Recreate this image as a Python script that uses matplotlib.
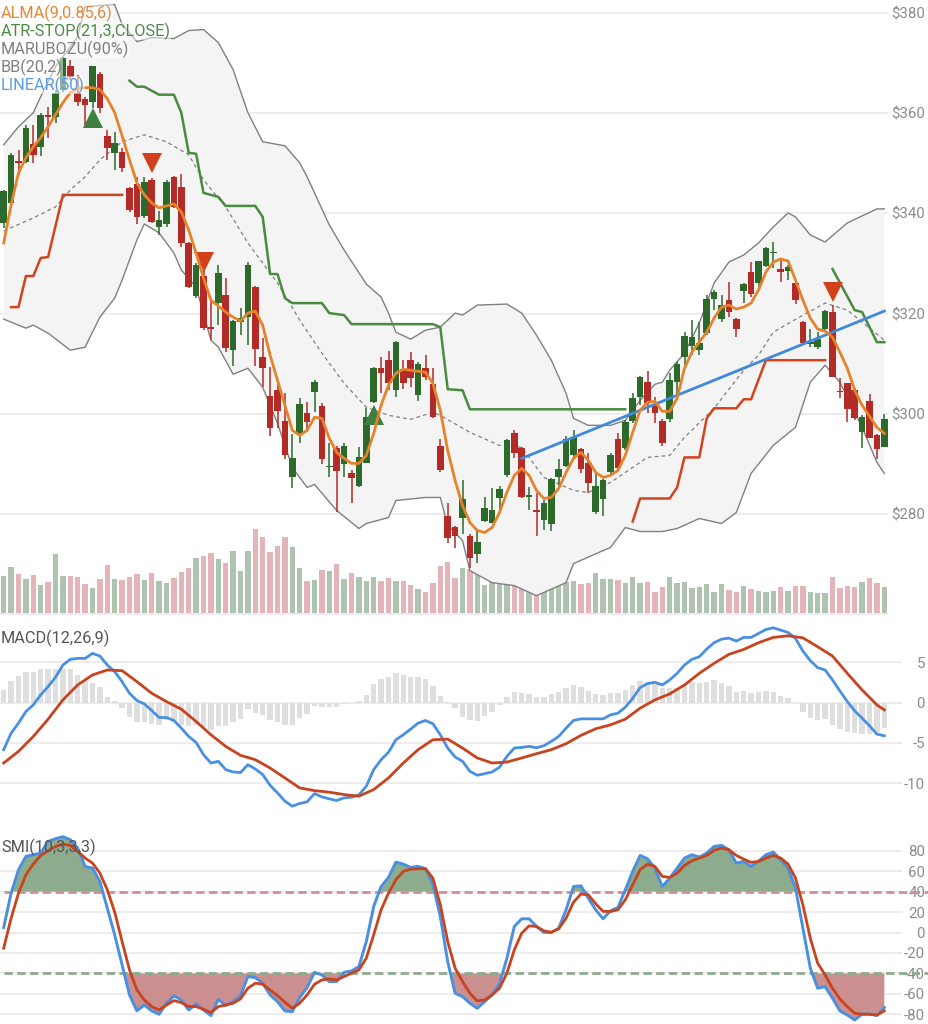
import numpy as np
import matplotlib
matplotlib.use('Agg')
import matplotlib.pyplot as plt

plt.rcParams['font.family'] = ['Roboto', 'DejaVu Sans']

W, H = 929, 1024

# candles, one value per bar
candle_open = [338.1,342.1,350.5,350.3,353.9,353.3,359.7,359.3,364.7,369.5,364.1,362.9,362.3,367.9,355.5,352.1,352.3,345.1,345.9,339.5,
               346.7,337.3,337.9,347.3,345.3,334.1,323.5,327.5,317.3,322.1,323.7,312.7,318.3,319.3,325.3,311.3,303.5,304.7,298.5,287.3,
               295.9,300.1,304.3,301.5,289.3,293.1,289.9,288.1,285.5,290.1,302.3,309.1,310.7,304.7,308.9,310.7,303.7,309.1,305.9,293.5,
               279.7,277.5,279.3,275.7,272.1,278.7,278.3,283.1,287.7,296.1,293.1,283.3,280.7,278.9,278.1,287.3,289.5,291.7,292.9,290.1,
               280.3,282.9,288.3,294.9,293.1,298.5,303.3,306.3,301.7,298.5,298.9,306.3,311.3,313.5,312.7,316.1,322.9,318.9,322.7,318.9,
               324.5,328.3,326.1,329.5,332.1,328.9,328.5,326.1,318.3,313.9,313.3,316.9,320.3,304.5,306.1,304.7,296.3,302.5,295.7,293.3]
candle_close = [344.5,351.7,350.1,357.1,351.7,359.7,359.3,364.1,371.1,367.3,362.3,361.7,369.5,361.1,353.1,354.1,349.1,340.7,339.3,346.3,
                338.3,338.7,346.3,341.3,334.1,325.3,329.7,317.1,316.9,328.1,313.1,318.5,319.1,329.7,312.9,309.1,297.1,300.5,291.7,291.1,
                301.9,298.3,306.3,290.9,289.5,288.5,293.5,287.1,291.3,299.3,309.1,308.1,306.1,314.3,306.1,307.1,309.9,307.3,299.3,288.7,
                275.3,275.7,282.9,271.3,274.5,281.1,280.7,284.9,294.7,292.1,283.3,283.7,280.3,282.1,286.9,288.9,294.9,295.3,288.9,286.1,
                285.5,286.7,291.7,289.1,298.3,303.1,307.3,302.1,300.1,294.1,306.7,309.9,315.5,315.3,314.1,322.9,324.3,321.7,320.3,316.9,
                325.9,323.9,330.5,333.1,332.3,328.3,329.3,322.7,314.1,314.3,314.9,320.5,307.3,304.3,300.9,299.1,299.3,295.1,292.9,298.9]
candle_high = [344.7,352.1,352.7,357.7,357.7,360.1,361.3,364.7,371.3,370.7,367.7,363.3,369.5,368.3,356.7,356.3,353.1,345.3,347.3,347.3,
               347.1,340.5,346.7,347.5,347.9,334.3,330.1,328.7,322.7,329.7,327.1,318.7,321.1,330.3,325.5,315.1,309.3,306.7,304.1,295.9,
               303.1,302.3,306.7,302.1,294.1,293.5,294.1,288.7,293.3,301.1,309.3,311.3,312.5,314.5,310.7,312.3,310.3,311.7,309.1,294.9,
               282.1,277.7,286.7,276.1,277.1,283.3,285.1,285.5,294.9,296.7,293.3,285.3,284.1,282.7,287.1,290.9,295.5,296.7,293.1,292.1,
               288.1,286.9,292.1,296.1,298.7,304.1,307.5,308.5,303.3,298.9,308.1,310.3,316.3,318.7,318.3,323.7,324.7,323.7,326.3,319.1,
               326.1,330.3,330.5,333.3,334.3,331.1,329.7,326.3,318.5,316.9,316.3,320.7,321.7,307.1,306.1,305.1,299.7,303.9,295.9,299.9]
candle_low = [337.1,341.7,347.7,350.1,350.1,351.5,355.1,358.1,364.3,366.7,361.5,357.7,361.1,360.1,350.7,348.7,348.3,340.3,337.9,339.1,
              338.1,335.7,337.3,341.1,333.3,325.1,323.1,316.7,314.7,317.7,312.3,309.5,315.7,313.7,309.5,305.3,295.5,297.1,290.9,285.1,
              294.1,296.3,300.3,289.9,287.3,280.3,287.3,282.1,285.3,290.1,302.1,304.1,304.7,303.3,304.9,305.3,302.5,306.7,299.1,288.3,
              274.3,273.3,276.1,269.3,270.3,278.5,278.3,280.7,287.3,291.1,283.1,280.7,275.7,276.9,276.7,285.3,289.3,291.1,288.1,284.1,
              280.1,279.7,287.9,288.7,292.7,298.1,301.7,300.1,298.1,293.5,298.3,302.7,309.7,311.7,311.7,315.7,320.7,318.3,319.3,315.3,
              322.1,323.3,325.1,329.3,329.1,326.3,326.7,321.9,314.1,313.3,312.9,316.7,307.3,303.1,298.3,298.7,293.1,295.1,290.9,293.3]
volume = [37,46,39,34,38,28,31,59,37,37,36,29,25,34,48,34,33,36,39,33,40,32,30,35,41,45,55,57,60,54,50,62,42,62,84,76,61,67,76,66,
          45,32,33,43,42,49,34,40,36,32,36,32,35,32,32,28,24,21,30,47,51,35,45,44,40,28,36,31,31,27,33,31,43,31,33,34,31,32,29,30,
          40,34,34,33,30,36,30,31,21,26,36,30,31,25,26,29,21,29,23,21,27,24,22,21,22,26,22,27,27,21,20,20,36,25,27,26,31,35,30,26]

# overlays, read at their bends
bb_upper_idx = [0,2,4,5,7,10,11,15,16,18,20,23,25,27,29,31,33,35,38,40,41,44,46,49,51,52,53,55,57,59,61,62,64,68,70,72,74,76,77,79,82,84,86,88,89,90,92,94,96,98,100,102,104,106,107,109,111,114,118,119]
bb_upper = [353.7,357.3,360.1,363.3,369.3,375.3,381.3,381.7,377.7,374.3,375.1,374.9,376.5,376.7,374.1,368.7,360.1,354.3,353.5,350.1,347.3,337.7,332.7,325.9,323.3,320.1,316.3,314.9,316.7,317.3,320.1,319.7,321.7,321.9,320.1,315.7,310.7,304.1,299.1,297.7,297.7,298.7,302.7,305.9,306.3,308.7,312.1,318.1,326.1,330.3,331.7,334.1,337.3,340.1,339.3,335.7,334.3,338.1,340.9,340.9]
bb_lower_idx = [0,3,4,6,9,11,13,15,16,18,19,21,23,24,26,28,29,31,33,35,37,39,41,42,45,48,49,52,53,57,59,60,62,63,66,69,72,76,77,81,82,84,86,89,91,94,97,99,101,104,107,109,111,113,116,118,119]
bb_lower = [318.9,317.1,317.7,316.1,312.7,313.3,319.3,323.1,326.7,334.7,337.9,336.1,332.1,328.7,325.3,314.7,313.3,307.9,309.1,305.3,298.1,289.3,285.3,285.9,280.7,277.1,278.1,279.3,282.7,283.3,283.3,277.7,274.7,268.7,266.3,265.7,263.7,266.3,270.1,272.7,273.3,277.3,276.5,276.5,277.1,279.1,278.1,280.3,288.1,293.7,297.3,306.3,309.7,306.3,297.3,290.3,288.1]
bb_mid_idx = [0,4,7,9,11,13,16,19,22,25,27,30,33,37,40,43,46,49,52,55,58,59,63,67,70,73,77,79,82,85,87,90,92,96,100,102,104,108,111,114,117,119]
bb_mid = [336.5,339.1,341.3,344.7,347.3,350.7,354.3,355.7,354.3,351.7,346.7,341.3,334.1,326.1,318.7,312.1,306.1,301.3,299.7,298.9,300.3,299.7,296.3,293.7,293.3,287.3,284.7,284.3,286.3,289.3,291.3,291.7,295.3,301.1,308.7,311.7,316.3,319.7,322.1,320.7,317.1,314.7]
alma = [334.1,341.7,348.1,351.1,353.3,355.1,357.3,359.7,362.1,364.1,364.9,365.1,365.1,364.7,362.9,360.1,355.5,350.7,346.1,343.7,
        342.1,341.1,341.5,341.9,340.3,336.7,332.1,327.1,322.7,321.5,320.3,319.3,318.5,320.1,320.5,317.7,311.7,306.7,301.7,296.7,
        295.7,296.7,299.3,299.1,295.1,292.3,291.1,290.1,290.1,291.7,296.1,301.7,305.7,308.1,308.9,308.7,308.5,308.3,306.1,300.7,
        292.7,286.7,281.7,278.3,276.7,276.3,277.3,280.3,284.3,287.7,289.1,287.7,284.7,283.1,283.3,285.1,288.3,291.1,292.3,290.7,
        288.3,287.3,287.7,288.7,291.7,296.3,300.7,302.3,302.5,300.5,300.5,303.1,309.1,312.3,314.3,316.3,319.1,321.3,321.7,320.9,
        321.3,322.1,324.7,328.3,330.3,330.9,330.5,326.7,322.7,319.1,316.9,316.5,315.3,312.3,309.1,304.7,301.7,299.5,297.3,296.1]
atr_a_idx = [17,18,19,21,23,24,25,26,27,29,30,34,35,36,37,38,39,43,44,46,47,58,59,60,62,63,84]
atr_a = [366.5,365.3,365.3,363.7,363.7,360.1,352.1,351.9,344.1,343.3,341.5,341.5,339.3,327.9,327.9,323.1,322.1,322.1,320.1,319.7,317.9,317.9,317.3,304.9,304.7,300.9,300.9]
atr_b_idx = [112,115,116,118,119]
atr_b = [328.9,320.7,320.3,314.3,314.3]
stop_a_idx = [1,2,3,4,5,6,8,16]
stop_a = [321.3,321.3,327.5,327.5,331.1,331.3,343.7,343.7]
stop_b_idx = [85,86,90,91,92,94,95,96,99,100,101,103,111]
stop_b = [278.5,283.1,283.1,285.3,291.3,291.3,299.1,301.1,301.1,302.9,302.9,310.7,310.7]
linear_idx = [70,119]
linear = [291.1,320.5]

up_idx = [12,50]
up_price = [359.1,299.7]
down_idx = [20,27,112]
down_price = [350.1,330.3,324.3]

macd = [-5.84,-3.79,-2.55,-1.11,-0.29,0.95,1.98,3.13,4.65,5.35,5.47,5.47,6.09,5.76,4.65,3.83,2.59,1.15,0.25,-0.16,
        -0.99,-1.85,-1.85,-2.22,-3.17,-4.2,-4.94,-6.46,-7.49,-7.28,-8.31,-8.6,-8.68,-7.7,-8.23,-8.93,-10.25,-11.19,-12.22,-12.84,
        -12.51,-12.3,-11.28,-11.69,-11.93,-12.14,-11.81,-11.73,-11.44,-10.37,-8.31,-7.08,-6.17,-4.61,-3.99,-3.29,-2.55,-2.22,-2.63,-3.99,
        -5.64,-6.75,-7.28,-8.52,-9.01,-8.81,-8.6,-8.02,-6.67,-5.64,-5.56,-5.43,-5.6,-5.35,-4.81,-4.2,-3.17,-2.22,-2.02,-2.02,
        -2.02,-2.02,-1.52,-1.32,-0.58,0.53,1.85,2.35,2.51,2.18,2.8,3.62,4.65,5.35,5.68,6.63,7.41,7.86,7.98,7.61,
        8.07,8.07,8.56,9.05,9.26,8.97,8.68,7.94,6.38,5.19,4.32,4.03,2.8,1.44,0.12,-1.03,-1.93,-2.88,-3.91,-4.12]
signal_idx = list(range(0,119,2)) + [119]
signal = [-7.49,-6.05,-4.2,-2.06,0.33,2.18,3.42,4.03,3.95,2.59,1.15,0.12,-0.82,-2.35,-3.99,-5.43,-6.54,-7.08,-8.11,-9.34,
          -10.58,-10.91,-11.11,-11.4,-11.6,-10.78,-9.34,-7.49,-5.84,-4.61,-4.53,-5.64,-6.87,-7.49,-7.37,-6.87,-6.34,-5.84,-5.1,-4.07,
          -3.25,-2.76,-2.06,-0.7,0.33,1.07,2.18,3.62,4.86,5.97,6.58,7.41,8.07,8.27,8.02,6.91,5.76,3.62,1.56,-0.29,-0.91]
hist = [1.56,2.72,3.29,3.83,3.83,4.1,4.1,4.1,4.2,4.1,3.4,2.72,2.4,1.9,0.66,0.2,-0.7,-1.73,-2.4,-2.35,
        -2.63,-2.76,-2.2,-2.35,-2.76,-2.88,-2.76,-3.05,-3.37,-2.88,-2.88,-2.35,-2.0,-0.8,-1.25,-1.5,-2.2,-2.35,-2.76,-2.76,
        -1.93,-1.4,-0.4,-0.5,-0.6,-0.6,-0.2,-0.1,0.15,0.95,2.26,2.88,3.2,3.7,3.4,3.2,3.13,2.88,2.06,0.82,
        0.12,-0.7,-1.73,-2.14,-2.26,-1.65,-1.23,-0.29,0.66,1.36,1.23,1.03,0.74,0.66,1.07,1.36,1.85,2.18,1.98,1.48,
        1.07,0.99,1.23,1.15,1.56,2.18,2.67,2.55,2.39,1.77,1.77,1.77,2.18,2.59,2.39,2.59,2.8,2.47,2.1,1.36,
        1.48,1.15,1.28,1.44,1.36,0.86,0.53,-0.08,-1.23,-1.93,-2.22,-2.06,-2.76,-3.29,-3.66,-3.79,-3.87,-3.87,-3.7,-3.17]

smi = [4.9,38.5,61.4,74.4,76.1,77.7,89.1,91.8,93.7,90.8,82.6,64.7,63,50,23.8,-2.3,-31.7,-61,-76.7,-70.9,
       -76.7,-80,-69.2,-62,-66,-75.8,-69.9,-75.8,-81.3,-65.3,-71.5,-67.6,-62,-43.1,-44.1,-49.6,-61,-67.6,-76.7,-77.4,
       -63.7,-53.9,-38.9,-41.5,-48,-48,-38.9,-37.6,-33.3,-8.8,25.5,45,53.9,68.9,66.9,63.7,64.7,62.4,46.7,15.7,
       -28.4,-59.4,-62.7,-69.2,-74.1,-67.6,-61,-50.6,-25.1,5.9,13.4,13.4,5.9,0,0,4.2,22.2,45,45.7,33.6,
       22.2,13.4,21.2,24.5,41.8,59.8,75.4,72.2,63,45,53.2,63,72.8,76.1,73.8,77.7,84.2,85.2,81,67.9,
       69.6,64.7,69.6,76.1,78.7,71.2,63,43.4,4.2,-34.9,-54.5,-52.9,-64.3,-76.7,-80.7,-85.6,-79.7,-79.7,-81.3,-73.5]
smi_signal = [-15.3,14,38.5,56.5,66.9,75.4,80,84.2,86.5,85.2,79.3,72.8,67.9,58.1,41.8,19.9,-8.8,-36.6,-56.2,-66,
              -72.5,-75.8,-70.9,-66.6,-68.6,-72.5,-72.5,-75.1,-78.4,-72.5,-70.9,-69.2,-65,-54.5,-49.6,-50.6,-56.2,-61.7,-68.2,-74.1,
              -69.2,-61,-50.6,-46.4,-45.4,-46.4,-43.1,-39.8,-36.6,-25.1,-2.3,22.2,38.5,51.6,59.8,62,62.4,62.4,53.2,27.1,
              -8.8,-34.9,-48,-59.4,-66.9,-66,-61,-54.5,-39.8,-17,-0.7,6.5,5.9,1.6,0.3,3.6,14,29.7,37.6,36.9,
              28.1,20.6,20.6,22.2,32,46.7,61.4,66.9,64.7,54.9,53.9,58.1,65.6,70.2,72.8,75.4,80.3,82.6,81,75.4,
              71.8,68.6,69.6,72.8,75.4,72.8,66.9,53.2,27.1,-5.6,-30,-41.5,-54.5,-65,-72.5,-79,-80,-80,-80.7,-76.7]

price_ticks = [260,280,300,320,340,360,380]
price_labels = ['','$280','$300','$320','$340','$360','$380']
macd_ticks = [-10,-5,0,5]
smi_ticks = [-80,-60,-40,-20,0,20,40,60,80]
legend_names = ['ALMA(9,0.85,6)','ATR-STOP(21,3,CLOSE)','MARUBOZU(90%)','BB(20,2)','LINEAR(50)']
legend_colors = ['#E5883A','#4B8B45','#808080','#808080','#5A9BE0']

GREEN = '#2B6A2B'
RED = '#B22B27'
GRID = '#e8e8e8'
TXT = '#8c8c8c'


def makeAxes(top, bottom, right, ylim, ticks, labels, pad):
    ax = fig.add_axes([0, 1 - bottom / H, right / W, (bottom - top) / H])
    ax.set_xlim(-0.5, (right - 3.7) / 7.4)
    ax.set_ylim(*ylim)
    ax.set_xticks([])
    ax.yaxis.tick_right()
    ax.set_yticks(ticks, labels=labels)
    ax.tick_params(axis='y', length=0, pad=pad, labelsize=10.8, labelcolor=TXT)
    for lab in ax.get_yticklabels():
        lab.set_ha('right')
    ax.grid(axis='y', color=GRID, lw=1.1)
    ax.set_axisbelow(True)
    for s in ax.spines.values():
        s.set_visible(False)
    return ax


fig = plt.figure(figsize=(W / 100, H / 100), dpi=100)
x = np.arange(len(candle_open))
o = np.array(candle_open)
c = np.array(candle_close)
colors = [GREEN if c[i] >= o[i] else RED for i in x]

# volume axis first, its own axes so the price ticks stay on the right
ax_vol = fig.add_axes([0, 1 - 616 / H, 888 / W, 616 / H])
ax_vol.set_xlim(-0.5, (888 - 3.7) / 7.4)
ax_vol.set_ylim(-3, 613)
ax_vol.axis('off')
vol_colors = ['#AEC4AE' if k == GREEN else '#E5B4B8' for k in colors]
ax_vol.bar(x, volume, width=0.75, color=vol_colors)

ax = makeAxes(0, 616, 888, (259.64, 382.6), price_ticks, price_labels, 26.6)
ax.patch.set_visible(False)

band_x = bb_upper_idx + bb_lower_idx[::-1]
band_y = bb_upper + bb_lower[::-1]
ax.fill(band_x, band_y, color='#f4f4f4', zorder=1, lw=0)
ax.plot(bb_upper_idx, bb_upper, color='#808080', lw=1.0, zorder=2)
ax.plot(bb_lower_idx, bb_lower, color='#808080', lw=1.0, zorder=2)
ax.plot(bb_mid_idx, bb_mid, color='#808080', lw=0.9, ls=(0, (3, 2.5)), zorder=2)

ax.vlines(x, candle_low, candle_high, colors=colors, lw=1.1, zorder=3)
ax.bar(x, np.abs(c - o), bottom=np.minimum(o, c), width=0.88, color=colors, zorder=3)

ax.plot(stop_a_idx, stop_a, color='#D2441C', lw=1.8, zorder=4)
ax.plot(stop_b_idx, stop_b, color='#D2441C', lw=1.8, zorder=4)
ax.plot(atr_a_idx, atr_a, color='#4A8A42', lw=1.8, zorder=4)
ax.plot(atr_b_idx, atr_b, color='#4A8A42', lw=1.8, zorder=4)
ax.plot(linear_idx, linear, color='#4189DC', lw=2.0, zorder=4)
ax.plot(up_idx, up_price, ls='', marker='^', ms=15, mew=0, color='#3F7F3F', zorder=5)
ax.plot(down_idx, down_price, ls='', marker='v', ms=15, mew=0, color='#D2401C', zorder=5)
ax.plot(x, alma, color='#E5822A', lw=2.0, zorder=6, solid_joinstyle='round')

# MACD
ax2 = makeAxes(622, 822, 902, (-14.8, 9.98), macd_ticks, [str(v) for v in macd_ticks], 16.6)
ax2.bar(x, hist, width=0.75, color='#dfdfdf', zorder=2)
ax2.plot(x, macd, color='#4A90E2', lw=2.0, zorder=3)
ax2.plot(signal_idx, signal, color='#C8431E', lw=2.0, zorder=4)

# SMI
ax3 = makeAxes(826, 1024, 902, (-89.5, 104.2), smi_ticks, [str(v) for v in smi_ticks], 16.6)
s = np.array(smi)
ax3.fill_between(x, 40, s, where=s > 40, interpolate=True, color='#8DAB8D', lw=0, zorder=2)
ax3.fill_between(x, -40, s, where=s < -40, interpolate=True, color='#CC8F8F', lw=0, zorder=2)
ax3.plot([0, 125], [40, 40], color='#CF9094', lw=2, ls=(0, (3, 1.6)), clip_on=False, zorder=3)
ax3.plot([0, 125], [-40, -40], color='#8DAB8D', lw=2, ls=(0, (3, 1.6)), clip_on=False, zorder=3)
ax3.plot(x, smi, color='#4A90E2', lw=2.1, zorder=4)
ax3.plot(x, smi_signal, color='#C8431E', lw=2.0, zorder=5)

for i, name in enumerate(legend_names):
    fig.text(1 / W, 1 - (13 + 18 * i) / H, name, color=legend_colors[i], fontsize=11.7, va='center',
             bbox=dict(fc='white', ec='none', alpha=0.5, pad=0), zorder=10)
fig.text(1 / W, 1 - 638 / H, 'MACD(12,26,9)', color='#555555', fontsize=11.7, va='center', zorder=10)
fig.text(1 / W, 1 - 847 / H, 'SMI(10,3,3,3)', color='#555555', fontsize=11.7, va='center', zorder=10)

fig.savefig('out.png', dpi=100)
